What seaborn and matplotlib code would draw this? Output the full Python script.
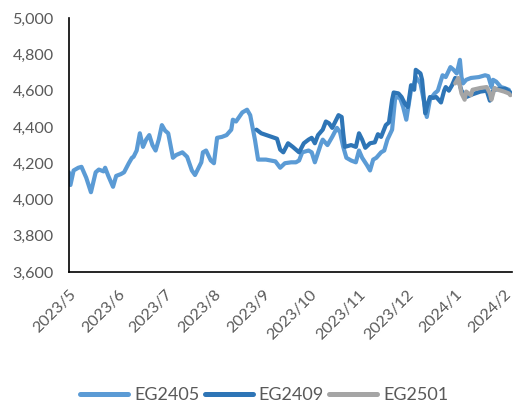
import matplotlib
matplotlib.use('Agg')
import matplotlib.pyplot as plt
import pandas as pd
import seaborn as sns

# EG2405
eg2405_dates = [
    '2023-05-04', '2023-05-05', '2023-05-07', '2023-05-10', '2023-05-12', '2023-05-15',
    '2023-05-18', '2023-05-21', '2023-05-23', '2023-05-26', '2023-05-27', '2023-05-29',
    '2023-06-01', '2023-06-03', '2023-06-06', '2023-06-08', '2023-06-11', '2023-06-13',
    '2023-06-14', '2023-06-16', '2023-06-18', '2023-06-20', '2023-06-22', '2023-06-24',
    '2023-06-26', '2023-06-28', '2023-06-30', '2023-07-02', '2023-07-04', '2023-07-06',
    '2023-07-09', '2023-07-11', '2023-07-15', '2023-07-18', '2023-07-21', '2023-07-23',
    '2023-07-27', '2023-07-28', '2023-07-30', '2023-08-02', '2023-08-04', '2023-08-06',
    '2023-08-09', '2023-08-12', '2023-08-15', '2023-08-16', '2023-08-18', '2023-08-20',
    '2023-08-22', '2023-08-25', '2023-08-27', '2023-08-28', '2023-08-30', '2023-09-01',
    '2023-09-06', '2023-09-12', '2023-09-15', '2023-09-18', '2023-09-22', '2023-09-25',
    '2023-09-27', '2023-09-29', '2023-10-03', '2023-10-05', '2023-10-07', '2023-10-11',
    '2023-10-12', '2023-10-15', '2023-10-18', '2023-10-21', '2023-10-23', '2023-10-25',
    '2023-10-27', '2023-10-30', '2023-11-02', '2023-11-04', '2023-11-06', '2023-11-09',
    '2023-11-11', '2023-11-13', '2023-11-15', '2023-11-18', '2023-11-20', '2023-11-22',
    '2023-11-25', '2023-11-27', '2023-11-30', '2023-12-02', '2023-12-04', '2023-12-07',
    '2023-12-09', '2023-12-10', '2023-12-13', '2023-12-15', '2023-12-17', '2023-12-19',
    '2023-12-22', '2023-12-24', '2023-12-27', '2023-12-29', '2024-01-01', '2024-01-03',
    '2024-01-05', '2024-01-07', '2024-01-08', '2024-01-09', '2024-01-11', '2024-01-14',
    '2024-01-19', '2024-01-23', '2024-01-25', '2024-01-27', '2024-01-28', '2024-01-30',
    '2024-02-02', '2024-02-04', '2024-02-07', '2024-02-08',
]
eg2405_values = [
    4150, 4080, 4160, 4175, 4180, 4120,
    4040, 4150, 4165, 4155, 4175, 4130,
    4070, 4130, 4140, 4150, 4200, 4230,
    4235, 4270, 4365, 4290, 4330, 4355,
    4300, 4270, 4330, 4410, 4380, 4365,
    4230, 4245, 4260, 4235, 4160, 4135,
    4205, 4260, 4270, 4215, 4200, 4340,
    4345, 4355, 4385, 4440, 4430, 4455,
    4480, 4495, 4465, 4420, 4330, 4220,
    4220, 4210, 4175, 4200, 4205, 4205,
    4215, 4260, 4270, 4260, 4205, 4310,
    4330, 4300, 4345, 4395, 4370, 4290,
    4230, 4215, 4205, 4270, 4230, 4190,
    4160, 4220, 4230, 4260, 4270, 4330,
    4385, 4565, 4560, 4510, 4440, 4605,
    4640, 4675, 4640, 4550, 4455, 4550,
    4585, 4600, 4685, 4675, 4730, 4715,
    4695, 4770, 4675, 4640, 4660, 4670,
    4675, 4685, 4680, 4620, 4660, 4650,
    4620, 4615, 4605, 4580,
]

# EG2409
eg2409_dates = [
    '2023-08-31', '2023-09-03', '2023-09-08', '2023-09-13', '2023-09-15', '2023-09-17',
    '2023-09-20', '2023-09-23', '2023-09-27', '2023-09-30', '2023-10-03', '2023-10-05',
    '2023-10-07', '2023-10-09', '2023-10-12', '2023-10-14', '2023-10-16', '2023-10-18',
    '2023-10-20', '2023-10-22', '2023-10-24', '2023-10-25', '2023-10-26', '2023-10-30',
    '2023-11-02', '2023-11-04', '2023-11-06', '2023-11-08', '2023-11-11', '2023-11-14',
    '2023-11-16', '2023-11-18', '2023-11-21', '2023-11-23', '2023-11-25', '2023-11-26',
    '2023-11-29', '2023-12-01', '2023-12-03', '2023-12-05', '2023-12-07', '2023-12-09',
    '2023-12-10', '2023-12-13', '2023-12-14', '2023-12-16', '2023-12-17', '2023-12-19',
    '2023-12-21', '2023-12-23', '2023-12-26', '2023-12-28', '2023-12-29', '2023-12-31',
    '2024-01-02', '2024-01-04', '2024-01-06', '2024-01-08', '2024-01-11', '2024-01-15',
    '2024-01-20', '2024-01-24', '2024-01-26', '2024-01-28', '2024-01-31', '2024-02-05',
    '2024-02-08',
]
eg2409_values = [
    4385, 4365, 4350, 4335, 4275, 4260,
    4310, 4290, 4260, 4310, 4330, 4340,
    4310, 4355, 4385, 4430, 4420, 4395,
    4430, 4465, 4455, 4365, 4290, 4300,
    4290, 4365, 4330, 4285, 4310, 4315,
    4360, 4345, 4410, 4425, 4550, 4590,
    4585, 4565, 4530, 4510, 4630, 4605,
    4715, 4695, 4660, 4475, 4510, 4565,
    4560, 4565, 4535, 4600, 4620, 4600,
    4630, 4670, 4660, 4600, 4565, 4580,
    4595, 4600, 4545, 4600, 4610, 4610,
    4590,
]

# EG2501
eg2501_dates = [
    '2024-01-04', '2024-01-06', '2024-01-08', '2024-01-10', '2024-01-11', '2024-01-14',
    '2024-01-15', '2024-01-20', '2024-01-24', '2024-01-26', '2024-01-27', '2024-01-29',
    '2024-01-31', '2024-02-04', '2024-02-07', '2024-02-08',
]
eg2501_values = [
    4640, 4670, 4585, 4550, 4595, 4575,
    4605, 4615, 4620, 4585, 4550, 4615,
    4605, 4595, 4585, 4575,
]

series_names = ['EG2405', 'EG2409', 'EG2501']
series_colors = ['#5B9BD5', '#2E75B6', '#A5A5A5']
y_ticks = [3600, 3800, 4000, 4200, 4400, 4600, 4800, 5000]

frames = []
for name, d, v in zip(series_names,
                      [eg2405_dates, eg2409_dates, eg2501_dates],
                      [eg2405_values, eg2409_values, eg2501_values]):
    frames.append(pd.DataFrame({'date': pd.to_datetime(d), 'value': v, 'contract': name}))
df = pd.concat(frames, ignore_index=True)

sns.set_style('white')
plt.rcParams['font.family'] = ['Lato', 'DejaVu Sans']

fig = plt.figure(figsize=(5.14, 4.03), dpi=100)
ax = fig.add_axes([0.134, 0.325, 0.862, 0.630])

sns.lineplot(data=df, x='date', y='value', hue='contract', hue_order=series_names,
             palette=series_colors, linewidth=3.0, ax=ax, legend=False, sort=True)

# 坐标轴
ax.set_ylim(3600, 5000)
ax.set_yticks(y_ticks)
ax.set_yticklabels([f'{t:,}' for t in y_ticks])
x_ticks = pd.date_range('2023-05-04', periods=10, freq=pd.DateOffset(months=1))
ax.set_xticks(x_ticks)
ax.set_xticklabels([f'{d.year}/{d.month}' for d in x_ticks], rotation=45,
                   ha='right', rotation_mode='anchor')
ax.set_xlim(pd.Timestamp('2023-05-04'), pd.Timestamp('2024-02-09'))
ax.set_xlabel('')
ax.set_ylabel('')
ax.tick_params(axis='both', length=0, labelsize=11.6, labelcolor='#595959')
ax.tick_params(axis='x', pad=11)
ax.tick_params(axis='y', pad=11)
for s in ['top', 'right']:
    ax.spines[s].set_visible(False)
for s in ['left', 'bottom']:
    ax.spines[s].set_color('black')
    ax.spines[s].set_linewidth(1.2)

# 图例
handles = [plt.Line2D([0], [0], color=c, linewidth=3.6) for c in series_colors]
fig.legend(handles, series_names, loc='center', bbox_to_anchor=(0.514, 0.02), ncol=3,
           frameon=False, fontsize=13, labelcolor='#595959', handlelength=2.67,
           handletextpad=0.33, columnspacing=0.28, borderpad=0, borderaxespad=0)

plt.savefig('out.png', dpi=100)
plt.close()
